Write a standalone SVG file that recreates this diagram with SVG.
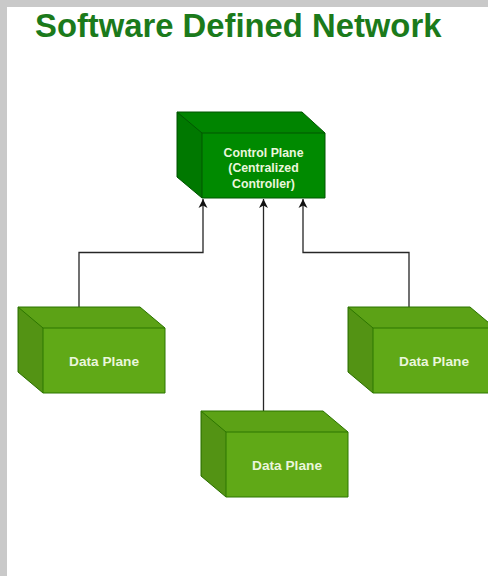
<svg xmlns="http://www.w3.org/2000/svg" width="488" height="576" viewBox="0 0 488 576">
  <style>
    .title { font-family: "Liberation Sans", Arial, sans-serif; font-weight: bold; font-size: 32.8px; fill: #1b7a1b; }
    .lbl { font-family: "Liberation Sans", Arial, sans-serif; font-weight: bold; fill: #eaf6dc; text-anchor: middle; }
    .ctl .body { fill: #008a00; stroke: #005700; stroke-width: 1; }
    .dat .body { fill: #60a917; stroke: #2d7600; stroke-width: 1; }
    .side { fill: #000; fill-opacity: 0.13; }
    .top { fill: #000; fill-opacity: 0.04; }
    .edge { fill: none; stroke-width: 1; }
    .ctl .edge { stroke: #005700; }
    .dat .edge { stroke: #2d7600; }
    .wire { fill: none; stroke: #262626; stroke-width: 1.3; }
  </style>
  <defs>
    <marker id="arrow" viewBox="-10 -5 11 10" refX="0" refY="0" markerWidth="11" markerHeight="10" markerUnits="userSpaceOnUse" orient="auto">
      <path d="M0,0 L-9,-4.5 L-6.5,0 L-9,4.5 Z" fill="#111"/>
    </marker>
  </defs>

  <!-- page frame -->
  <rect x="0" y="0" width="488" height="576" fill="#c9c9c9"/>
  <rect x="7" y="7" width="481" height="569" fill="#ffffff"/>

  <text class="title" x="35" y="37">Software Defined Network</text>

  <!-- connectors -->
  <g id="connectors">
    <path class="wire" d="M79,307 V252.5 H203 V199" marker-end="url(#arrow)"/>
    <path class="wire" d="M263.5,411 V199" marker-end="url(#arrow)"/>
    <path class="wire" d="M409,307 V252.5 H303 V199" marker-end="url(#arrow)"/>
  </g>

  <!-- controller cube -->
  <g id="control-plane" class="ctl">
    <path class="body" d="M177,112 H302 L325,133 V198 H202 L177,177 Z"/>
    <path class="side" d="M177,112 L202,133 V198 L177,177 Z"/>
    <path class="top" d="M177,112 H302 L325,133 H202 Z"/>
    <path class="edge" d="M177,112 L202,133 H325 M202,133 V198"/>
    <text class="lbl" font-size="12.3" x="263.5" y="156.5">Control Plane</text>
    <text class="lbl" font-size="12.3" x="263.5" y="172">(Centralized</text>
    <text class="lbl" font-size="12.3" x="263.5" y="187.5">Controller)</text>
  </g>

  <!-- data plane cubes -->
  <g id="data-plane-left" class="dat">
    <path class="body" d="M18,307 H140 L165,328 V393 H43 L18,372 Z"/>
    <path class="side" d="M18,307 L43,328 V393 L18,372 Z"/>
    <path class="top" d="M18,307 H140 L165,328 H43 Z"/>
    <path class="edge" d="M18,307 L43,328 H165 M43,328 V393"/>
    <text class="lbl" font-size="13.7" x="104" y="365.5">Data Plane</text>
  </g>

  <g id="data-plane-right" class="dat">
    <path class="body" d="M348,307 H470 L495,328 V393 H373 L348,372 Z"/>
    <path class="side" d="M348,307 L373,328 V393 L348,372 Z"/>
    <path class="top" d="M348,307 H470 L495,328 H373 Z"/>
    <path class="edge" d="M348,307 L373,328 H495 M373,328 V393"/>
    <text class="lbl" font-size="13.7" x="434" y="365.5">Data Plane</text>
  </g>

  <g id="data-plane-bottom" class="dat">
    <path class="body" d="M201,411 H323 L348,432 V497 H226 L201,476 Z"/>
    <path class="side" d="M201,411 L226,432 V497 L201,476 Z"/>
    <path class="top" d="M201,411 H323 L348,432 H226 Z"/>
    <path class="edge" d="M201,411 L226,432 H348 M226,432 V497"/>
    <text class="lbl" font-size="13.7" x="287" y="469.5">Data Plane</text>
  </g>
</svg>
